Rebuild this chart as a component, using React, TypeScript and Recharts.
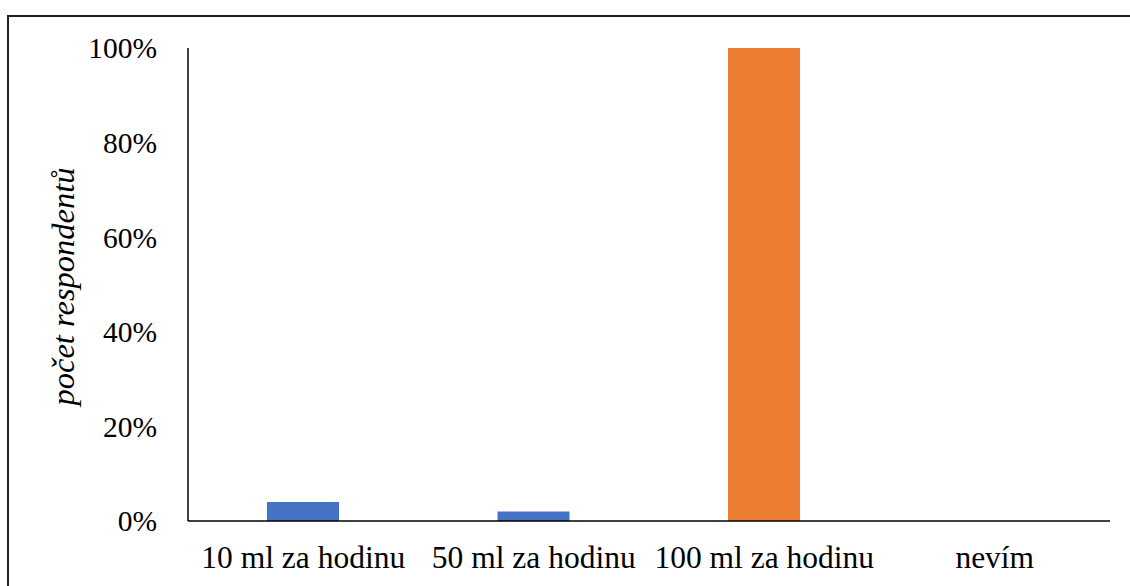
import React from "react";
import { BarChart, Bar, XAxis, YAxis, Cell } from "recharts";

const categories = ["10 ml za hodinu", "50 ml za hodinu", "100 ml za hodinu", "nevím"];
const shares = [0.04, 0.02, 1.0, 0];
const barColors = ["#4472C4", "#4472C4", "#ED7D31", "#4472C4"];
const yTicks = [0, 0.2, 0.4, 0.6, 0.8, 1.0];
const yLabel = "počet respondentů";

const data = categories.map((c, i) => ({ name: c, value: shares[i] }));

const FONT = "'Liberation Serif', 'Times New Roman', serif";

const YLabel = (props: any) => {
  const vb = props.viewBox || {};
  const cx = (vb.x ?? 0) + 63;
  const cy = (vb.y ?? 0) + (vb.height ?? 0) / 2 + 2;
  return (
    <text
      x={cx}
      y={cy}
      transform={`rotate(-90, ${cx}, ${cy})`}
      textAnchor="middle"
      dominantBaseline="central"
      fontFamily={FONT}
      fontStyle="italic"
      fontSize={32.5}
      fill="#000"
    >
      {yLabel}
    </text>
  );
};

export default function App() {
  return (
    <div style={{ position: "absolute", left: 0, top: 0, width: 1130, height: 586, background: "#fff", overflow: "hidden" }}>
      <div
        style={{
          position: "absolute",
          left: 7,
          top: 15,
          width: 1200,
          height: 700,
          borderTop: "2px solid #222",
          borderLeft: "2px solid #222",
        }}
      />
      <div style={{ position: "absolute", left: 0, top: 0 }}>
        <BarChart width={1130} height={586} data={data} margin={{ top: 48, right: 20, bottom: 0, left: 0 }} barSize={72}>
          <XAxis
            dataKey="name"
            height={65}
            axisLine={{ stroke: "#000", strokeWidth: 1.5 }}
            tickLine={false}
            tickSize={0}
            tickMargin={25}
            tick={{ fontFamily: FONT, fontSize: 31.5, fill: "#000" }}
            interval={0}
          />
          <YAxis
            width={188}
            domain={[0, 1]}
            ticks={yTicks}
            axisLine={{ stroke: "#000", strokeWidth: 1.5 }}
            tickLine={false}
            tickSize={0}
            tickMargin={31}
            tickFormatter={(v: number) => `${Math.round(v * 100)}%`}
            tick={{ fontFamily: FONT, fontSize: 29.5, fill: "#000" }}
            label={<YLabel />}
          />
          <Bar dataKey="value" isAnimationActive={false}>
            {data.map((d, i) => (
              <Cell key={d.name} fill={barColors[i]} />
            ))}
          </Bar>
        </BarChart>
      </div>
    </div>
  );
}
